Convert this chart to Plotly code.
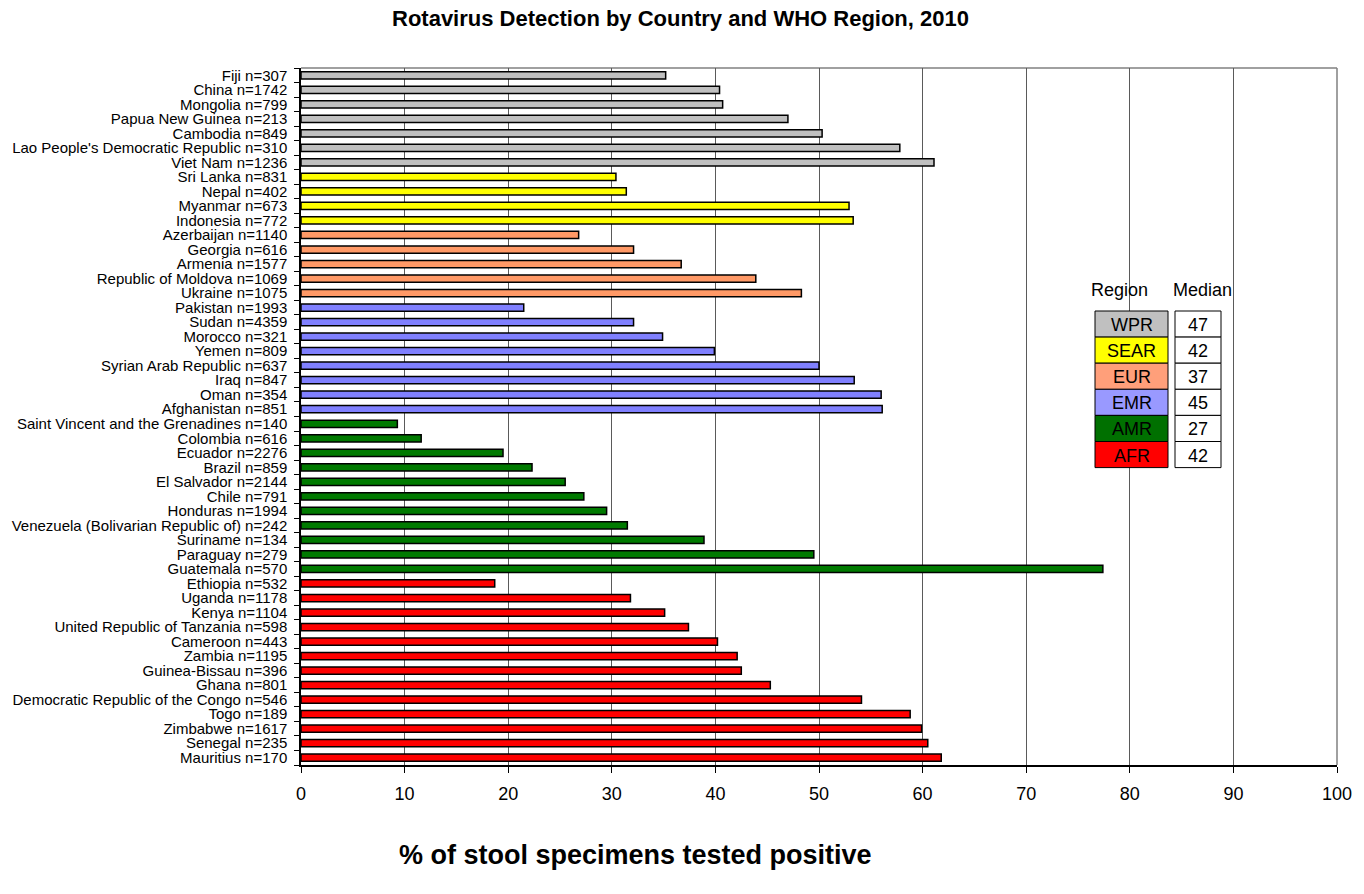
import plotly.graph_objects as go

# ---- data (top-to-bottom order as in the chart) ----
countries = [
    "Fiji n=307", "China n=1742", "Mongolia n=799", "Papua New Guinea n=213", "Cambodia n=849",
    "Lao People's Democratic Republic n=310", "Viet Nam n=1236",
    "Sri Lanka n=831", "Nepal n=402", "Myanmar n=673", "Indonesia n=772",
    "Azerbaijan n=1140", "Georgia n=616", "Armenia n=1577", "Republic of Moldova n=1069", "Ukraine n=1075",
    "Pakistan n=1993", "Sudan n=4359", "Morocco n=321", "Yemen n=809", "Syrian Arab Republic n=637",
    "Iraq n=847", "Oman n=354", "Afghanistan n=851",
    "Saint Vincent and the Grenadines n=140", "Colombia n=616", "Ecuador n=2276", "Brazil n=859",
    "El Salvador n=2144", "Chile n=791", "Honduras n=1994", "Venezuela (Bolivarian Republic of) n=242",
    "Suriname n=134", "Paraguay n=279", "Guatemala n=570",
    "Ethiopia n=532", "Uganda n=1178", "Kenya n=1104", "United Republic of Tanzania n=598",
    "Cameroon n=443", "Zambia n=1195", "Guinea-Bissau n=396", "Ghana n=801",
    "Democratic Republic of the Congo n=546", "Togo n=189", "Zimbabwe n=1617", "Senegal n=235",
    "Mauritius n=170",
]
percent_positive = [
    35.2, 40.4, 40.7, 47.0, 50.3, 57.8, 61.1,
    30.4, 31.4, 52.9, 53.3,
    26.8, 32.1, 36.7, 43.9, 48.3,
    21.5, 32.1, 34.9, 39.9, 50.0, 53.4, 56.0, 56.1,
    9.3, 11.6, 19.5, 22.3, 25.5, 27.3, 29.5, 31.5, 38.9, 49.5, 77.4,
    18.7, 31.8, 35.1, 37.4, 40.2, 42.1, 42.5, 45.3, 54.1, 58.8, 59.9, 60.5, 61.8,
]
region_of_country = (["WPR"] * 7 + ["SEAR"] * 4 + ["EUR"] * 5 + ["EMR"] * 8
                     + ["AMR"] * 11 + ["AFR"] * 13)

regions = ["WPR", "SEAR", "EUR", "EMR", "AMR", "AFR"]
region_medians = [47, 42, 37, 45, 27, 42]

x_ticks = [0, 10, 20, 30, 40, 50, 60, 70, 80, 90, 100]

# ---- styles ----
bar_colors = {"WPR": "#C0C0C0", "SEAR": "#FFFF00", "EUR": "#FF9966",
              "EMR": "#8080FF", "AMR": "#007A00", "AFR": "#FF0000"}
legend_colors = {"WPR": "#C0C0C0", "SEAR": "#FFFF00", "EUR": "#FF9F7A",
                 "EMR": "#9999FF", "AMR": "#007000", "AFR": "#FF0000"}
FONT = "Liberation Sans, Arial, sans-serif"

fig = go.Figure()
fig.add_trace(go.Bar(
    x=percent_positive, y=countries, orientation="h",
    marker=dict(color=[bar_colors[r] for r in region_of_country],
                line=dict(color="black", width=1.5)),
    hoverinfo="x+y",
))

W, H = 1364, 894
L, R, T, B = 301, 27, 68, 129
plot_w = W - L - R
plot_h = H - T - B

def py_paper(py):
    return (H - B - py) / plot_h

def px_paper(px):
    return (px - L) / plot_w

shapes = []
annotations = []

def label(px, py, text, size, bold=False):
    annotations.append(dict(
        x=px_paper(px), y=py_paper(py), xref="paper", yref="paper",
        xanchor="center", yanchor="middle",
        text=f"<b>{text}</b>" if bold else text, showarrow=False,
        font=dict(size=size, color="black", family=FONT)))

# legend table
reg_x0, reg_x1 = 1095, 1168
med_x0, med_x1 = 1175, 1221
row_top, row_h = 311, 26.1
for i, (reg, med) in enumerate(zip(regions, region_medians)):
    top = row_top + i * row_h
    bot = top + row_h
    shapes.append(dict(type="rect", xref="paper", yref="paper",
                       x0=px_paper(reg_x0), x1=px_paper(reg_x1), y0=py_paper(bot), y1=py_paper(top),
                       fillcolor=legend_colors[reg], line=dict(color="black", width=1), layer="above"))
    shapes.append(dict(type="rect", xref="paper", yref="paper",
                       x0=px_paper(med_x0), x1=px_paper(med_x1), y0=py_paper(bot), y1=py_paper(top),
                       fillcolor="white", line=dict(color="black", width=1), layer="above"))
    label((reg_x0 + reg_x1) / 2, (top + bot) / 2 + 1, reg, 18)
    label((med_x0 + med_x1) / 2, (top + bot) / 2 + 1, str(med), 18)

label(1119, 290, "Region", 18)
label(1202, 290, "Median", 18)

# title and x-axis title
label(680, 19, "Rotavirus Detection by Country and WHO Region, 2010", 22, bold=True)
label(635, 855, "% of stool specimens tested positive", 27, bold=True)

# frame: gray top and right borders
shapes.append(dict(type="line", xref="paper", yref="paper", x0=0, x1=1, y0=1, y1=1,
                   line=dict(color="#808080", width=1.5), layer="below"))
shapes.append(dict(type="line", xref="paper", yref="paper", x0=1, x1=1, y0=0, y1=1,
                   line=dict(color="#808080", width=1.5), layer="below"))

fig.update_layout(
    width=W, height=H,
    margin=dict(l=L, r=R, t=T, b=B, autoexpand=False),
    paper_bgcolor="white", plot_bgcolor="white",
    bargap=0.5,
    showlegend=False,
    font=dict(family=FONT, color="black"),
    shapes=shapes, annotations=annotations,
    xaxis=dict(range=[0, 100], tickmode="array", tickvals=x_ticks, ticktext=[str(t) for t in x_ticks],
               showgrid=True, gridcolor="#5a5a5a", gridwidth=1,
               showline=True, linecolor="black", linewidth=1.5,
               ticks="outside", ticklen=6, tickcolor="black",
               tickfont=dict(size=18, color="black", family=FONT),
               ticklabelstandoff=6,
               zeroline=False, fixedrange=True),
    yaxis=dict(type="category", categoryorder="array", categoryarray=countries,
               autorange="reversed", showgrid=False,
               tickmode="array", tickvals=countries, ticktext=countries,
               showline=True, linecolor="black", linewidth=1.5,
               ticks="outside", ticklen=5, tickcolor="black", tickson="boundaries",
               tickfont=dict(size=15, color="black", family=FONT),
               ticklabelstandoff=9, fixedrange=True),
)

fig.write_html("out.html", config={"displayModeBar": False},
               post_script="document.body.style.margin='0';")
